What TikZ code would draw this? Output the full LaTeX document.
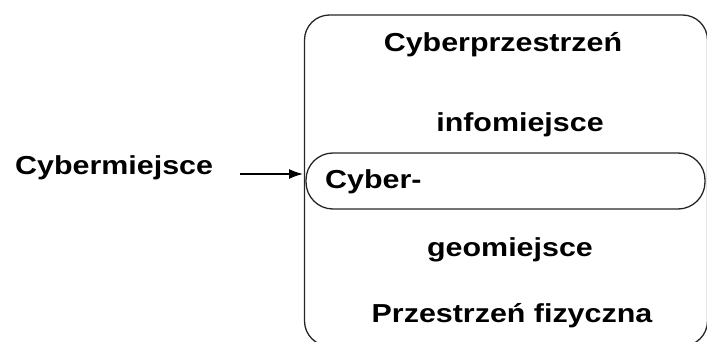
\documentclass[tikz,border=0pt]{standalone}
\usepackage{fontspec}
\newfontfamily\schemat{Liberation Sans}[FakeStretch=1.17]
\usetikzlibrary{arrows.meta}
\tikzset{
	napis/.style={anchor=base, inner sep=0pt, font=\schemat\bfseries\fontsize{26}{30}\selectfont},
	ramka/.style={draw=black!85, line width=1.3pt},
}
\begin{document}
\begin{tikzpicture}[x=1pt, y=-1pt]
	\useasboundingbox (0,0) rectangle (707,342);
	% Przestrzen (duza ramka)
	\draw[ramka, rounded corners=25pt] (304.5,15) rectangle (707.5,346);
	% Cybermiejsce (owal w srodku)
	\node (cyber) [ramka, rounded corners=27pt, minimum width=399pt, minimum height=56pt, inner sep=0pt] at (505.5,181) {};
	% Napisy
	\node (cp) [napis] at (503,52) {Cyberprzestrzeń};
	\node (info) [napis] at (520,132) {infomiejsce};
	\node (cyb) [napis, anchor=base west] at (325,188) {Cyber-};
	\node (geo) [napis] at (510,256) {geomiejsce};
	\node (fiz) [napis] at (512,322) {Przestrzeń fizyczna};
	\node (cm) [napis, anchor=base west] at (15,175) {Cybermiejsce};
	% Strzalka
	\coordinate (start) at (240,174);
	\coordinate (cel) at (303,174);
	\draw[line width=1.3pt, -{Latex[length=14pt, width=10pt]}] (start) -- (cel);
\end{tikzpicture}
\end{document}
